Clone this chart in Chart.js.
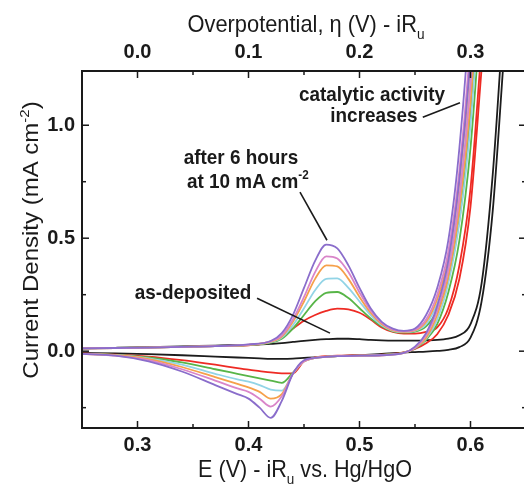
<!DOCTYPE html>
<html>
<head>
<meta charset="utf-8">
<script src="https://cdn.jsdelivr.net/npm/chart.js@4.4.1/dist/chart.umd.min.js"></script>
<style>
  html, body { margin: 0; padding: 0; background: #fff; overflow: hidden; }
  canvas { display: block; }
</style>
</head>
<body>
<canvas id="cv" width="530" height="484"></canvas>
<script>
// potential (V vs Hg/HgO), anodic sweep then cathodic sweep
const potentialFwd = [0.25, 0.28, 0.31, 0.34, 0.37, 0.40, 0.42, 0.43, 0.44, 0.45, 0.46, 0.47, 0.48, 0.49, 0.50,
                      0.51, 0.52, 0.53, 0.54, 0.55, 0.56, 0.57, 0.58, 0.59, 0.60, 0.61, 0.62, 0.63, 0.64];
const potentialRev = [0.64, 0.63, 0.62, 0.61, 0.60, 0.59, 0.58, 0.57, 0.56, 0.55, 0.54, 0.52, 0.50, 0.48,
                      0.46, 0.45, 0.44, 0.43, 0.42, 0.41, 0.40, 0.39, 0.37, 0.34, 0.31, 0.28, 0.25];

// current density (mA cm-2); null = far above the top of the plot
const asDepFwd = [0.012, 0.015, 0.018, 0.021, 0.025, 0.028, 0.032, 0.036, 0.041, 0.046, 0.050, 0.053, 0.055, 0.055, 0.053,
                  0.050, 0.048, 0.047, 0.047, 0.047, 0.048, 0.050, 0.056, 0.070, 0.120, 0.300, 0.780, 1.500, null];
const asDepRev = [null, 1.30, 0.62, 0.22, 0.06, 0.018, 0.006, 0.001, -0.002, -0.004, -0.006, -0.012, -0.018, -0.022,
                  -0.027, -0.030, -0.033, -0.034, -0.034, -0.032, -0.030, -0.028, -0.024, -0.018, -0.013, -0.010, -0.008];

const hr1Fwd = [0.012, 0.014, 0.016, 0.019, 0.022, 0.026, 0.040, 0.062, 0.100, 0.135, 0.160, 0.178, 0.188, 0.185, 0.170,
                0.140, 0.105, 0.085, 0.078, 0.078, 0.085, 0.105, 0.190, 0.380, 0.720, 1.350, null, null, null];
const hr1Rev = [null, null, null, 1.25, 0.64, 0.32, 0.16, 0.075, 0.035, 0.010, -0.005, -0.015, -0.018, -0.020,
                -0.028, -0.045, -0.098, -0.098, -0.094, -0.088, -0.082, -0.075, -0.060, -0.040, -0.024, -0.015, -0.010];

const hr2Fwd = [0.012, 0.014, 0.016, 0.019, 0.022, 0.027, 0.038, 0.055, 0.100, 0.160, 0.220, 0.258, 0.262, 0.235, 0.190,
                0.145, 0.110, 0.088, 0.082, 0.086, 0.110, 0.180, 0.320, 0.580, 1.050, 1.800, null, null, null];
const hr2Rev = [null, null, null, 1.55, 0.90, 0.49, 0.26, 0.12, 0.050, 0.012, -0.006, -0.016, -0.020, -0.022,
                -0.030, -0.045, -0.095, -0.140, -0.130, -0.120, -0.110, -0.100, -0.080, -0.050, -0.028, -0.016, -0.011];

const hr3Fwd = [0.012, 0.014, 0.016, 0.019, 0.022, 0.028, 0.040, 0.060, 0.115, 0.190, 0.270, 0.320, 0.322, 0.280, 0.220,
                0.160, 0.115, 0.090, 0.084, 0.090, 0.120, 0.210, 0.370, 0.680, 1.200, 2.000, null, null, null];
const hr3Rev = [null, null, null, 1.70, 1.00, 0.57, 0.30, 0.14, 0.055, 0.014, -0.007, -0.017, -0.020, -0.022,
                -0.030, -0.045, -0.100, -0.175, -0.170, -0.150, -0.135, -0.125, -0.100, -0.060, -0.032, -0.017, -0.012];

const hr4Fwd = [0.012, 0.014, 0.016, 0.019, 0.022, 0.028, 0.042, 0.065, 0.130, 0.220, 0.320, 0.380, 0.375, 0.320, 0.240,
                0.170, 0.120, 0.092, 0.086, 0.092, 0.130, 0.230, 0.410, 0.750, 1.300, 2.200, null, null, null];
const hr4Rev = [null, null, null, 1.85, 1.10, 0.63, 0.33, 0.16, 0.060, 0.015, -0.008, -0.018, -0.020, -0.022,
                -0.030, -0.045, -0.100, -0.190, -0.210, -0.180, -0.160, -0.145, -0.115, -0.070, -0.035, -0.018, -0.012];

const hr5Fwd = [0.012, 0.014, 0.016, 0.019, 0.022, 0.029, 0.044, 0.070, 0.140, 0.240, 0.350, 0.420, 0.410, 0.350, 0.260,
                0.180, 0.125, 0.095, 0.088, 0.095, 0.140, 0.250, 0.440, 0.800, 1.380, 2.300, null, null, null];
const hr5Rev = [null, null, null, 1.95, 1.18, 0.68, 0.36, 0.18, 0.070, 0.015, -0.008, -0.018, -0.020, -0.022,
                -0.030, -0.045, -0.100, -0.200, -0.245, -0.210, -0.180, -0.165, -0.130, -0.080, -0.040, -0.020, -0.012];

const hr6Fwd = [0.012, 0.014, 0.016, 0.019, 0.022, 0.030, 0.045, 0.080, 0.160, 0.280, 0.400, 0.472, 0.455, 0.380, 0.280,
                0.190, 0.130, 0.100, 0.090, 0.100, 0.160, 0.280, 0.490, 0.900, 1.550, 2.500, null, null, null];
const hr6Rev = [null, null, null, 2.10, 1.30, 0.76, 0.40, 0.20, 0.080, 0.020, -0.008, -0.018, -0.020, -0.022,
                -0.030, -0.040, -0.100, -0.220, -0.295, -0.250, -0.210, -0.190, -0.150, -0.090, -0.045, -0.020, -0.012];

// axis ticks
const eTicks = [0.3, 0.4, 0.5, 0.6];
const eMinor = [0.35, 0.45, 0.55];
const etaTicks = [0.0, 0.1, 0.2, 0.3];
const etaMinor = [0.05, 0.15, 0.25];
const jTicks = [0.0, 0.5, 1.0];
const jMinor = [-0.25, 0.25, 0.75];
const eqPotential = 0.3; // overpotential = E - 0.3 V

const FONT = "'Liberation Sans', Arial, sans-serif";
const INK = '#1a1a1a';

const series = [
  { fwd: hr6Fwd, rev: hr6Rev, color: '#8a6dcb' },
  { fwd: hr5Fwd, rev: hr5Rev, color: '#d985c9' },
  { fwd: hr4Fwd, rev: hr4Rev, color: '#f6a04a' },
  { fwd: hr3Fwd, rev: hr3Rev, color: '#92d4e6' },
  { fwd: hr2Fwd, rev: hr2Rev, color: '#58b548' },
  { fwd: hr1Fwd, rev: hr1Rev, color: '#ee2b24' },
  { fwd: asDepFwd, rev: asDepRev, color: '#1c1c1c' }
];

// each sweep as its own dataset, ordered by increasing E so monotone splines apply
function sweep(pot, cur) {
  return pot.map((e, i) => ({ x: e, y: cur[i] })).sort((a, b) => a.x - b.x);
}

// labels and leader lines, in data units (E, j)
const notes = [
  { parts: [['catalytic activity', '']], at: [0.5113, 1.106], align: 'center' },
  { parts: [['increases', '']], at: [0.513, 1.013], align: 'center' },
  { parts: [['after 6 hours', '']], at: [0.3932, 0.827], align: 'center' },
  { parts: [['at 10 mA cm', ''], ['-2', 'sup']], at: [0.3446, 0.721], align: 'left' },
  { parts: [['as-deposited', '']], at: [0.350, 0.230], align: 'center' }
];
const leaders = [
  [[0.557, 1.035], [0.5905, 1.10]],
  [[0.4464, 0.704], [0.4707, 0.491]],
  [[0.4077, 0.2345], [0.4734, 0.080]]
];

// text with sub/superscripts; sx squeezes glyphs horizontally like the source figure
function richText(ctx, parts, x, y, size, weight, align, sx) {
  const fontFor = k => weight + ' ' + (k ? Math.round(size * 0.62) : size) + 'px ' + FONT;
  let total = 0;
  parts.forEach(([t, k]) => { ctx.font = fontFor(k); total += ctx.measureText(t).width; });
  ctx.save();
  ctx.translate(x, y);
  ctx.scale(sx, 1);
  let cx = align === 'center' ? -total / 2 : 0;
  ctx.textAlign = 'left';
  ctx.textBaseline = 'alphabetic';
  parts.forEach(([t, k]) => {
    ctx.font = fontFor(k);
    const dy = k === 'sub' ? size * 0.3 : k === 'sup' ? -size * 0.42 : 0;
    ctx.fillText(t, cx, dy);
    cx += ctx.measureText(t).width;
  });
  ctx.restore();
}

const decor = {
  id: 'decor',
  afterDatasetsDraw(chart) {
    const { ctx, chartArea: a, scales } = chart;
    ctx.save();
    ctx.strokeStyle = INK;
    ctx.lineWidth = 2;
    ctx.strokeRect(a.left, a.top, a.right - a.left, a.bottom - a.top);
    ctx.lineWidth = 1.5;
    const seg = (x1, y1, x2, y2) => { ctx.beginPath(); ctx.moveTo(x1, y1); ctx.lineTo(x2, y2); ctx.stroke(); };
    eTicks.forEach(v => { const x = scales.x.getPixelForValue(v); seg(x, a.bottom, x, a.bottom - 7); });
    eMinor.forEach(v => { const x = scales.x.getPixelForValue(v); seg(x, a.bottom, x, a.bottom - 4); });
    etaTicks.forEach(v => { const x = scales.x2.getPixelForValue(v); seg(x, a.top, x, a.top + 7); });
    etaMinor.forEach(v => { const x = scales.x2.getPixelForValue(v); seg(x, a.top, x, a.top + 4); });
    jTicks.forEach(v => {
      const y = scales.y.getPixelForValue(v);
      seg(a.left, y, a.left + 7, y); seg(a.right, y, a.right - 7, y);
    });
    jMinor.forEach(v => {
      const y = scales.y.getPixelForValue(v);
      seg(a.left, y, a.left + 4, y); seg(a.right, y, a.right - 4, y);
    });

    // leader lines and labels
    ctx.lineWidth = 1.6;
    leaders.forEach(([p, q]) => {
      seg(scales.x.getPixelForValue(p[0]), scales.y.getPixelForValue(p[1]),
          scales.x.getPixelForValue(q[0]), scales.y.getPixelForValue(q[1]));
    });
    ctx.fillStyle = INK;
    notes.forEach(n => {
      richText(ctx, n.parts, scales.x.getPixelForValue(n.at[0]), scales.y.getPixelForValue(n.at[1]),
               21, 'bold', n.align, 0.9);
    });

    // axis titles
    richText(ctx, [['Overpotential, \u03B7 (V) - iR', ''], ['u', 'sub']], 306, 32, 24, 'normal', 'center', 0.91);
    richText(ctx, [['E (V) - iR', ''], ['u', 'sub'], [' vs. Hg/HgO', '']], 305, 477, 24, 'normal', 'center', 0.9);
    ctx.translate(38, 240);
    ctx.scale(0.9, 1);
    ctx.rotate(-Math.PI / 2);
    richText(ctx, [['Current Density (mA cm', ''], ['-2', 'sup'], [')', '']], 0, 0, 24, 'normal', 'center', 1);
    ctx.restore();
  }
};

const tickFont = { family: FONT, size: 20, weight: 'bold' };
const fmt = v => Number(v).toFixed(1);

const datasets = [];
series.forEach(s => {
  [sweep(potentialFwd, s.fwd), sweep(potentialRev, s.rev)].forEach(d => {
    datasets.push({
      data: d,
      showLine: true,
      borderColor: s.color,
      borderWidth: 1.8,
      pointRadius: 0,
      cubicInterpolationMode: 'monotone',
      fill: false
    });
  });
});

new Chart(document.getElementById('cv'), {
  type: 'scatter',
  data: { datasets },
  options: {
    responsive: false,
    animation: false,
    events: [],
    layout: { padding: { right: 4, left: 0, top: 0, bottom: 0 } },
    plugins: { legend: { display: false }, tooltip: { enabled: false } },
    scales: {
      x: {
        type: 'linear', position: 'bottom', min: 0.25, max: 0.65,
        grid: { display: false, drawTicks: false }, border: { display: false },
        afterBuildTicks: s => { s.ticks = eTicks.map(v => ({ value: v })); },
        afterFit: s => { s.height = 56; },
        ticks: { font: tickFont, color: INK, padding: 5, maxRotation: 0, autoSkip: false, callback: fmt }
      },
      x2: {
        type: 'linear', position: 'top', min: 0.25 - eqPotential, max: 0.65 - eqPotential,
        grid: { display: false, drawTicks: false }, border: { display: false },
        afterBuildTicks: s => { s.ticks = etaTicks.map(v => ({ value: v })); },
        afterFit: s => { s.height = 71; },
        ticks: { font: tickFont, color: INK, padding: 7, maxRotation: 0, autoSkip: false, callback: fmt }
      },
      y: {
        type: 'linear', position: 'left', min: -0.34, max: 1.24,
        grid: { display: false, drawTicks: false }, border: { display: false },
        afterBuildTicks: s => { s.ticks = jTicks.map(v => ({ value: v })); },
        afterFit: s => { s.width = 82; },
        ticks: { font: tickFont, color: INK, padding: 7, autoSkip: false, callback: fmt }
      }
    }
  },
  plugins: [decor]
});
</script>
</body>
</html>
